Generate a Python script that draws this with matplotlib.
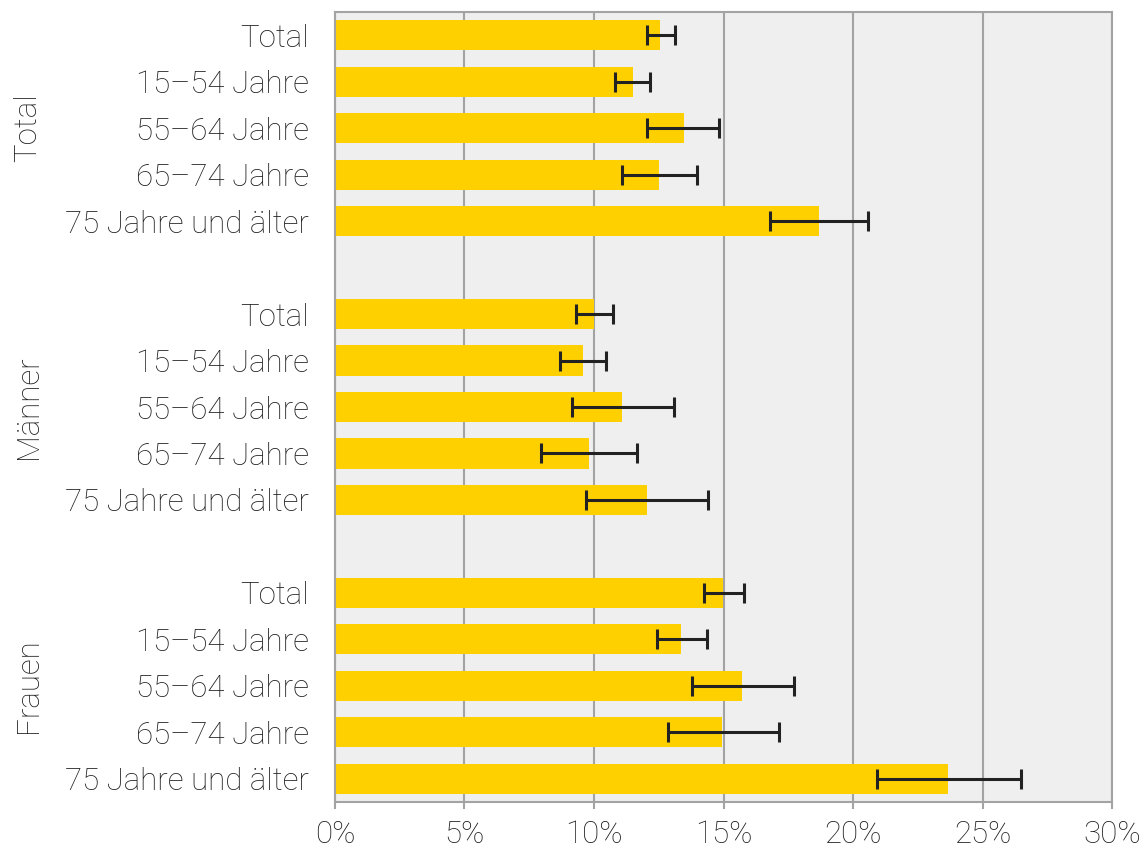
import numpy as np
import matplotlib
matplotlib.use('Agg')
import matplotlib.pyplot as plt
from matplotlib.ticker import FuncFormatter

plt.rcParams['font.family'] = ['Roboto', 'DejaVu Sans']

groups = ['Total', 'Männer', 'Frauen']
ages = ['Total', '15–54 Jahre', '55–64 Jahre', '65–74 Jahre', '75 Jahre und älter']

# share in percent, with lower / upper confidence bounds
total_val = [12.56, 11.49, 13.47, 12.50, 18.67]
total_lo = [12.05, 10.82, 12.06, 11.09, 16.80]
total_hi = [13.13, 12.18, 14.83, 13.97, 20.57]

maenner_val = [10.01, 9.58, 11.10, 9.79, 12.03]
maenner_lo = [9.31, 8.69, 9.16, 7.94, 9.71]
maenner_hi = [10.73, 10.48, 13.09, 11.65, 14.40]

frauen_val = [14.99, 13.36, 15.72, 14.95, 23.67]
frauen_lo = [14.26, 12.44, 13.77, 12.85, 20.93]
frauen_hi = [15.79, 14.35, 17.72, 17.13, 26.49]

vals = [total_val, maenner_val, frauen_val]
los = [total_lo, maenner_lo, frauen_lo]
his = [total_hi, maenner_hi, frauen_hi]

fig = plt.figure(figsize=(11.43, 8.52), dpi=100)
ax = fig.add_axes([335 / 1143, 1 - 802 / 852, (1112 - 335) / 1143, (802 - 12) / 852])
ax.set_facecolor('#efefef')

grey = '#a3a3a3'
txt = '#202020'
fs = 22.5
ypos_all = []
labels_all = []
for g, name in enumerate(groups):
    y = np.arange(5) + g * 6
    v = np.array(vals[g])
    err = np.vstack([v - np.array(los[g]), np.array(his[g]) - v])
    ax.barh(y, v, height=0.65, color='#ffd000', zorder=2)
    ax.errorbar(v, y, xerr=err, fmt='none', ecolor='#222222', elinewidth=2.2,
                capsize=7, capthick=2.2, zorder=3)
    ypos_all.extend(y)
    labels_all.extend(ages)
    ax.text(-0.395, y.mean(), name, rotation=90, ha='center', va='center',
            fontsize=fs, color=txt, fontweight='light', transform=ax.get_yaxis_transform())

ax.set_ylim(16.5, -0.5)
ax.set_xlim(0, 30)
ax.set_yticks(ypos_all)
ax.set_yticklabels(labels_all)
ax.set_xticks(np.arange(0, 31, 5))
ax.xaxis.set_major_formatter(FuncFormatter(lambda x, p: f'{x:.0f}%'))
ax.grid(axis='x', color=grey, linewidth=1.5, zorder=0)
ax.set_axisbelow(True)

for s in ax.spines.values():
    s.set_color(grey)
    s.set_linewidth(1.5)

ax.tick_params(axis='y', length=0, pad=19, labelsize=fs, labelcolor=txt)
ax.tick_params(axis='x', length=5, width=1.5, color=grey, pad=8, labelsize=fs, labelcolor=txt)
for lab in ax.get_xticklabels() + ax.get_yticklabels():
    lab.set_fontweight('light')

fig.savefig('out.png', dpi=100)
